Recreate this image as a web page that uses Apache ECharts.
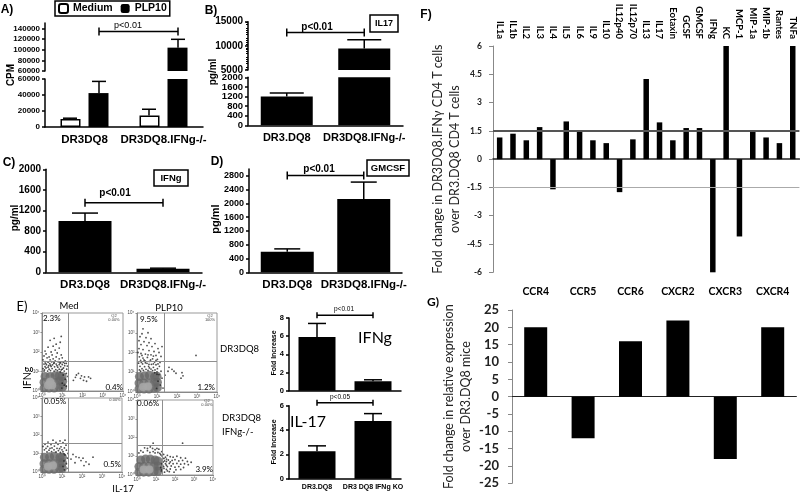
<!DOCTYPE html>
<html><head><meta charset="utf-8">
<style>html,body{margin:0;padding:0;background:#fff}#c{width:800px;height:493px}</style>
<script src="https://cdn.jsdelivr.net/npm/echarts@6/dist/echarts.min.js"></script>
</head><body><div id="c"></div>
<script>
// ---------- data ----------
const catA = ['DR3DQ8','DR3DQ8.IFNg-/-'];
const catBC = ['DR3.DQ8','DR3DQ8.IFNg-/-'];
const catE = ['DR3.DQ8','DR3 DQ8 IFNg KO'];
const aMedium = [10000,14300], aMediumErr = [11000,22200];
const aPlp = [42400,103800], aPlpErr = [57000,119400];
const aTicksHigh = [60000,80000,100000,120000,140000], aTicksLow = [0,20000,40000,60000];
const bValues = [1200,9450], bErr = [1350,11240];
const bTicksHigh = [5000,10000,15000], bTicksLow = [0,400,800,1200,1600,2000];
const cValues = [996,70], cErr = [1150,80], cTicks = [0,400,800,1200,1600,2000];
const dValues = [600,2130], dErr = [680,2620], dTicks = [0,400,800,1200,1600,2000,2400,2800];
const e1Values = [5.9,1.05], e1Err = [7.4,1.2], e1Ticks = [0,2,4,6,8];
const e2Values = [2.25,4.75], e2Err = [2.7,5.35], e2Ticks = [0,2,4,6];
const fCats = ['IL1a','IL1b','IL2','IL3','IL4','IL5','IL6','IL9','IL10','IL12p40','IL12p70','IL13','IL17','Eotaxin','GCSF','GMCSF','IFNg','KC','MCP-1','MIP-1a','MIP-1b','Rantes','TNFa'];
const fValues = [1.15,1.35,1.0,1.7,-1.6,2.0,1.5,1.0,0.85,-1.75,1.05,4.25,1.95,1.0,1.65,1.65,-6,6,-4.1,1.5,1.15,0.85,6];
const gCats = ['CCR4','CCR5','CCR6','CXCR2','CXCR3','CXCR4'];
const gValues = [20,-12,16,22,-18,20];
const decadeLabels = ['10⁰','10¹','10²','10³','10⁴'];
// flow cytometry events, [log10 IL-17, log10 IFNg], read by eye
const flowMedHi = [[0.95,2.8],[0.6,2.7],[0.4,2.6],[0.9,2.5],[0.7,2.4],[0.55,2.3],[0.3,2.25],[0.85,2.2],[0.65,2.1],[0.15,2.05],[0.45,2.0],[0.75,1.95],[0.2,1.9],[0.5,1.85],[0.95,1.85],[0.1,1.8],[0.35,1.75],[0.7,1.75],[1.0,1.7],[0.25,1.7],[0.55,1.65],[0.85,1.65],[0.05,1.6],[0.4,1.6],[0.65,1.55],[1.15,1.55],[0.15,1.5],[0.3,1.48],[0.48,1.5],[0.6,1.45],[0.8,1.5],[0.92,1.45],[1.05,1.48],[1.2,1.42],[0.1,1.38],[0.22,1.35],[0.38,1.4],[0.52,1.34],[0.7,1.38],[0.85,1.35],[1.0,1.36],[1.12,1.3],[1.25,1.28],[0.15,1.25],[0.3,1.22],[0.45,1.26],[0.62,1.24],[0.78,1.22],[0.92,1.25],[1.06,1.18],[1.22,1.12],[0.05,1.15],[0.95,1.08],[1.1,1.02],[1.2,0.9],[1.28,0.75],[1.05,0.82],[1.15,0.6],[1.0,0.4],[1.1,0.3],[0.98,0.15],[1.2,0.25],[1.7,0.82],[1.8,0.9],[1.95,0.78],[1.65,0.7],[1.9,0.65],[2.1,0.72],[2.3,0.72],[2.4,0.65],[2.05,0.55],[1.55,0.55],[2.2,0.5],[0.2,1.18],[0.35,1.12],[0.5,1.15],[0.68,1.1],[0.85,1.12],[0.12,1.08],[0.42,1.05],[0.6,1.02],[0.76,1.04],[0.9,0.98],[1.0,1.12],[0.28,1.02],[0.18,1.42],[0.42,1.32],[0.58,1.42],[0.74,1.3],[0.88,1.44],[1.12,1.42],[0.33,1.3],[0.1,1.02]];
const flowMedLo = [[0.1,0.15],[0.35,0.15],[0.6,0.15],[0.85,0.2],[1.02,0.2],[0.1,0.45],[0.35,0.45],[0.6,0.45],[0.85,0.5],[1.02,0.5],[0.15,0.75],[0.4,0.75],[0.65,0.78],[0.85,0.78],[1.0,0.75]];
const flowMedCore = [[0.3,0.3],[0.5,0.3],[0.4,0.48]];
const flowPlpHi = [[0.3,3.2],[0.25,2.95],[0.55,3.0],[0.15,2.8],[0.45,2.75],[0.7,2.7],[0.1,2.6],[0.35,2.55],[0.6,2.5],[0.9,2.45],[0.2,2.4],[0.5,2.35],[0.75,2.3],[1.05,2.2],[0.1,2.2],[0.3,2.15],[0.6,2.1],[0.85,2.05],[1.1,2.0],[0.05,2.0],[0.2,1.95],[0.42,1.92],[0.7,1.88],[0.95,1.85],[1.2,1.8],[0.12,1.78],[0.3,1.72],[0.52,1.75],[0.78,1.68],[1.02,1.65],[0.18,1.6],[0.4,1.58],[0.62,1.55],[0.88,1.52],[1.15,1.5],[0.08,1.46],[0.28,1.42],[0.5,1.45],[0.72,1.4],[0.95,1.38],[1.12,1.3],[0.15,1.3],[0.38,1.28],[0.58,1.3],[0.82,1.25],[1.02,1.18],[1.2,1.05],[1.1,0.88],[1.25,0.7],[1.05,0.55],[1.18,0.35],[0.98,0.18],[1.3,0.2],[2.95,1.85],[1.25,2.3],[1.6,1.25],[1.55,1.05],[1.85,1.05],[1.95,0.95],[2.25,0.98],[2.3,0.82],[2.2,0.7],[1.75,1.15],[1.4,0.85],[0.25,1.85],[0.55,1.88],[0.82,1.82],[0.35,1.62],[0.68,1.62],[0.95,1.6],[0.22,1.5],[0.42,1.48],[0.6,1.4],[0.82,1.42],[1.05,1.42],[0.25,1.18],[0.45,1.15],[0.7,1.16],[0.9,1.12],[0.12,1.12],[0.32,1.1],[0.55,1.1],[0.78,1.08],[1.0,1.02],[1.0,0.9],[0.88,0.98],[0.62,1.22],[0.18,1.05]];
const flowPlpLo = [[0.1,0.15],[0.35,0.15],[0.6,0.15],[0.85,0.2],[1.02,0.22],[0.1,0.45],[0.35,0.45],[0.6,0.45],[0.88,0.5],[1.02,0.5],[0.12,0.78],[0.38,0.82],[0.62,0.85],[0.88,0.78],[1.0,0.8]];
const flowPlpCore = [[0.3,0.25],[0.55,0.28]];
const flowKoMedHi = [[0.55,1.72],[0.9,1.68],[1.15,1.72],[0.3,1.62],[0.7,1.6],[1.05,1.58],[0.15,1.5],[0.45,1.48],[0.8,1.5],[1.2,1.45],[0.05,1.38],[0.28,1.38],[0.62,1.4],[0.95,1.36],[1.12,1.3],[0.4,1.28],[0.75,1.28],[1.22,1.18],[1.05,1.1],[1.3,1.0],[1.15,0.92],[1.28,0.75],[1.1,0.6],[1.22,0.45],[1.05,0.3],[1.3,0.2],[1.12,0.12],[1.55,0.95],[1.7,0.82],[1.85,0.78],[1.95,0.62],[2.05,0.75],[2.2,0.55],[2.35,0.42],[2.55,0.8],[2.1,0.35],[1.65,0.5],[1.45,0.7],[0.2,1.28],[0.5,1.3],[0.88,1.26],[0.12,1.2],[0.35,1.18],[0.6,1.2],[0.82,1.16],[1.0,1.2],[0.25,1.08],[0.48,1.1],[0.7,1.08],[0.92,1.06],[1.1,0.98]];
const flowKoMedLo = [[0.1,0.15],[0.35,0.15],[0.6,0.15],[0.88,0.18],[1.02,0.2],[0.1,0.45],[0.35,0.45],[0.6,0.45],[0.88,0.5],[1.02,0.5],[0.12,0.8],[0.38,0.82],[0.62,0.85],[0.9,0.8],[1.02,0.8]];
const flowKoMedCore = [[0.3,0.3],[0.55,0.35]];
const flowKoPlpHi = [[0.4,1.45],[0.7,1.5],[0.95,1.35],[1.15,1.38],[0.2,1.3],[0.55,1.3],[0.85,1.25],[1.1,1.2],[1.3,1.25],[0.1,1.18],[1.25,1.08],[1.4,1.1],[1.5,0.95],[1.35,0.9],[1.6,1.05],[1.75,0.98],[1.9,0.95],[2.1,1.0],[2.3,0.92],[2.55,0.9],[1.45,0.75],[1.65,0.8],[1.85,0.78],[2.0,0.82],[2.2,0.75],[2.4,0.78],[2.65,0.72],[2.85,0.68],[1.3,0.6],[1.5,0.6],[1.7,0.62],[1.9,0.6],[2.1,0.62],[2.3,0.58],[2.5,0.6],[2.7,0.55],[1.4,0.45],[1.6,0.45],[1.8,0.48],[2.0,0.42],[2.2,0.45],[2.45,0.4],[1.3,0.3],[1.55,0.3],[1.75,0.32],[2.05,0.28],[2.3,0.3],[1.45,0.15],[1.7,0.18],[1.95,0.15],[2.4,1.7],[0.85,1.7],[0.55,1.42],[0.82,1.42],[1.05,1.42],[0.32,1.22],[0.68,1.2],[0.95,1.18],[1.2,1.15],[1.32,1.02],[1.42,0.88],[1.55,0.85],[1.38,0.7],[1.55,0.72],[1.75,0.7],[1.35,0.52],[1.55,0.52],[1.25,0.4],[1.42,0.35],[1.28,0.22],[1.6,0.22]];
const flowKoPlpLo = [[0.1,0.15],[0.35,0.15],[0.62,0.15],[0.9,0.18],[1.1,0.2],[0.1,0.45],[0.35,0.45],[0.62,0.45],[0.9,0.48],[1.1,0.48],[0.2,0.8],[0.45,0.85],[0.7,0.85],[0.95,0.8],[1.1,0.75]];
const flowKoPlpCore = [[0.35,0.3],[0.65,0.3]];
const flowGateX = [1.3,1.35,1.3,1.33], flowGateY = [1.54,1.55,1.55,1.58];

// ---------- helpers ----------
const ARIAL='"Liberation Sans",Arial,sans-serif', LATO='Lato,"Open Sans",sans-serif';
const grids=[],xAxes=[],yAxes=[],series=[],texts=[],topAxes=[];
const BLK='#000';
function addGrid(box,xCats,xOpt,yOpt){
  const i=grids.length;
  grids.push(Object.assign({containLabel:false},box));
  xAxes.push(Object.assign({type:'category',data:xCats,gridIndex:i,
    axisLine:{onZero:false,lineStyle:{color:BLK,width:1.5}},
    axisTick:{alignWithLabel:true,length:3,lineStyle:{color:BLK,width:1.5}},
    axisLabel:{interval:0,hideOverlap:false,color:BLK,fontFamily:ARIAL,fontWeight:'bold',fontSize:11.5,margin:7},
    splitLine:{show:false}},xOpt||{}));
  yAxes.push(Object.assign({type:'value',gridIndex:i,splitLine:{show:false},
    axisLine:{show:true,lineStyle:{color:BLK,width:1.5}},
    axisTick:{show:true,length:3,lineStyle:{color:BLK,width:1.5}}},yOpt||{}));
  return i;
}
function tickY(ticks,fs,min,max,extra){
  return Object.assign({min,max,
    axisLabel:{customValues:ticks,formatter:v=>String(v),hideOverlap:false,showMinLabel:true,showMaxLabel:true,color:BLK,fontFamily:ARIAL,fontWeight:'bold',fontSize:fs,lineHeight:7,margin:5},
    axisTick:{show:true,customValues:ticks,length:3,lineStyle:{color:BLK,width:1.5}}},extra||{});
}
function bars(i,name,data,w,opt){
  series.push(Object.assign({type:'bar',name,xAxisIndex:i,yAxisIndex:i,data,barWidth:w,clip:true,
    itemStyle:{color:BLK},animation:false,silent:true},opt||{}));
}
function errs(i,tops,bases,cap,dx,only){
  const data=[];
  tops.forEach((t,k)=>{ if(!only||only(bases[k],t)) data.push([k,bases[k],t]); });
  series.push({type:'custom',xAxisIndex:i,yAxisIndex:i,data,animation:false,silent:true,clip:false,z:3,
    encode:{x:0,y:[1,2]},
    renderItem(p,api){
      const a=api.coord([api.value(0),api.value(1)]),b=api.coord([api.value(0),api.value(2)]);
      const x=a[0]+(dx||0);
      const st={stroke:BLK,lineWidth:1.5};
      return {type:'group',children:[
        {type:'line',shape:{x1:x,y1:a[1],x2:x,y2:b[1]},style:st},
        {type:'line',shape:{x1:x-cap,y1:b[1],x2:x+cap,y2:b[1]},style:st}]};
    }});
}
function bracket(i,x0,x1,y,capH,dx0,dx1){
  series.push({type:'custom',xAxisIndex:i,yAxisIndex:i,data:[[x0,x1,y]],animation:false,silent:true,clip:false,z:4,
    encode:{x:[0,1],y:2},
    renderItem(p,api){
      const a=api.coord([api.value(0),api.value(2)]),b=api.coord([api.value(1),api.value(2)]);
      const st={stroke:BLK,lineWidth:1.5},l=a[0]+(dx0||0),r=b[0]+(dx1||0);
      return {type:'group',children:[
        {type:'line',shape:{x1:l,y1:a[1],x2:r,y2:a[1]},style:st},
        {type:'line',shape:{x1:l,y1:a[1]-capH,x2:l,y2:a[1]+capH},style:st},
        {type:'line',shape:{x1:r,y1:a[1]-capH,x2:r,y2:a[1]+capH},style:st}]};
    }});
}
// tick labels too tightly packed for the axis' own label layout, placed through the same scale
function packedTickLabels(i,ticks,fs){
  series.push({type:'custom',xAxisIndex:i,yAxisIndex:i,data:ticks.map(v=>[0,v]),animation:false,silent:true,clip:false,z:5,
    encode:{x:0,y:1},
    renderItem(p,api){
      const c=api.coord([0,api.value(1)]);
      return {type:'text',x:p.coordSys.x-5,y:c[1],style:{text:String(api.value(1)),fill:BLK,
        font:'bold '+fs+'px '+ARIAL,textAlign:'right',textVerticalAlign:'middle'}};
    }});
}
function txt(s,x,y,fs,o){
  o=o||{};
  texts.push({type:'text',x,y,rotation:o.rot||0,z:10,silent:true,style:{text:s,
    fill:o.fill||BLK,font:(o.w||'normal')+' '+fs+'px '+(o.ff||ARIAL),
    textAlign:o.a||'center',textVerticalAlign:'middle'}});
}
function box(x,y,w,h){
  texts.push({type:'rect',z:9,silent:true,shape:{x,y,width:w,height:h},style:{fill:'#fff',stroke:BLK,lineWidth:1.5}});
}
const UP=Math.PI/2;

// ---------- A ----------
let i=addGrid({left:45,top:23,width:158,height:48},catA,{show:false},tickY(aTicksHigh,8,60000,150000));
bars(i,'Medium',aMedium.map(()=>null),20,{barGap:'40%',itemStyle:{color:'#fff',borderColor:BLK,borderWidth:1.5}});
bars(i,'PLP10',aPlp,20,{barGap:'40%'});
errs(i,aPlpErr,aPlp,7,14.5,(b)=>b>60000);
bracket(i,0,1,134000,4,14.5,14.5);
i=addGrid({left:45,top:79,width:158,height:48},catA,{},tickY(aTicksLow,8,0,60000));
bars(i,'Medium',aMedium,20,{barGap:'40%',itemStyle:{color:'#fff',borderColor:BLK,borderWidth:1.5}});
bars(i,'PLP10',aPlp,20,{barGap:'40%'});
errs(i,aMediumErr,aMedium,7,-14.5);
errs(i,aPlpErr,aPlp,7,14.5,(b)=>b<=60000);
txt('A)',7,10,12,{w:'bold'});
txt('CPM',11.5,75,10,{w:'bold',rot:UP});
txt('p<0.01',128,26,9);

// ---------- B ----------
i=addGrid({left:248,top:21.7,width:155,height:48.3},catBC,{show:false},
  tickY(bTicksHigh,10,5000,15000,{minorTick:{show:true,splitNumber:5,length:2,lineStyle:{color:BLK,width:1}}}));
bars(i,'b',bValues,52);
errs(i,bErr,bValues,17,0,(b)=>b>5000);
bracket(i,0,1,12750,4);
i=addGrid({left:248,top:77.3,width:155,height:48},catBC,{axisLabel:{interval:0,hideOverlap:false,color:BLK,fontFamily:ARIAL,fontWeight:'bold',fontSize:11,margin:7}},
  Object.assign(tickY(bTicksLow,10,0,2000),{axisLabel:{show:false}}));
bars(i,'b',bValues,52);
errs(i,bErr,bValues,17,0,(b)=>b<=2000);
packedTickLabels(i,bTicksLow,9.5);
txt('B)',211,11,12,{w:'bold'});
txt('pg/ml',213,72,10,{w:'bold',rot:UP});
txt('p<0.01',317,27,10,{w:'bold'});
box(370,15,28,17); txt('IL17',384,24,9,{w:'bold'});

// ---------- C ----------
i=addGrid({left:46,top:169.3,width:156,height:103},catBC,{},tickY(cTicks,10,0,2000));
bars(i,'c',cValues,53);
errs(i,cErr,cValues,13,0);
bracket(i,0,0.885,1351,4);
txt('C)',9,163,12,{w:'bold'});
txt('pg/ml',15,218,10,{w:'bold',rot:UP});
txt('p<0.01',115,193,10,{w:'bold'});
box(154,170,34,16); txt('IFNg',171,178,9.5,{w:'bold'});

// ---------- D ----------
i=addGrid({left:249,top:169,width:153,height:103.3},catBC,{},tickY(dTicks,9,0,3000));
bars(i,'d',dValues,53);
errs(i,dErr,dValues,13,0);
bracket(i,0,1,2808,4);
txt('D)',217,162,12,{w:'bold'});
txt('pg/ml',216,219,11,{w:'bold',rot:UP});
txt('p<0.01',319,169,10,{w:'bold'});
box(367,160,42,16); txt('GMCSF',388,168,9.5,{w:'bold'});

// ---------- E flow ----------
function flow(b,hi,lo,core,k){
  const g=addGrid(Object.assign({show:true,borderColor:'#999',borderWidth:1},b),decadeLabels,{show:false},{show:false});
  xAxes[g]={type:'value',gridIndex:g,min:0,max:4,interval:1,splitLine:{show:false},
    axisLine:{onZero:false,lineStyle:{color:'#888',width:1}},axisTick:{length:1.5,lineStyle:{color:'#888'}},
    axisLabel:{fontSize:4.5,color:'#444',margin:2.5,fontFamily:ARIAL,formatter:v=>decadeLabels[v]}};
  yAxes[g]={type:'value',gridIndex:g,min:0,max:4,interval:1,splitLine:{show:false},
    axisLine:{onZero:false,show:true,lineStyle:{color:'#888',width:1}},axisTick:{show:true,length:1.5,lineStyle:{color:'#888'}},
    axisLabel:{fontSize:4.5,color:'#444',margin:2.5,fontFamily:ARIAL,formatter:v=>decadeLabels[v]}};
  series.push({type:'scatter',xAxisIndex:g,yAxisIndex:g,data:lo,symbolSize:9,clip:true,silent:true,animation:false,z:1,
    itemStyle:{color:'#666'},
    markLine:{silent:true,symbol:'none',animation:false,label:{show:false},lineStyle:{color:'#8f8f8f',width:1,type:'solid'},
      data:[{xAxis:flowGateX[k]},{yAxis:flowGateY[k]}]}});
  series.push({type:'scatter',xAxisIndex:g,yAxisIndex:g,data:core,symbolSize:8,clip:true,silent:true,animation:false,z:2,
    itemStyle:{color:'#a8a8a8',shadowBlur:3,shadowColor:'#a8a8a8'}});
  series.push({type:'scatter',xAxisIndex:g,yAxisIndex:g,data:hi,symbolSize:1.8,clip:true,silent:true,animation:false,z:3,
    itemStyle:{color:'#222'}});
}
flow({left:42,top:313,width:81,height:78},flowMedHi,flowMedLo,flowMedCore,0);
flow({left:137,top:313,width:80,height:79},flowPlpHi,flowPlpLo,flowPlpCore,1);
flow({left:42,top:398,width:80,height:74},flowKoMedHi,flowKoMedLo,flowKoMedCore,2);
flow({left:137,top:400,width:76,height:75},flowKoPlpHi,flowKoPlpLo,flowKoPlpCore,3);
const S={ff:LATO};
txt('E)',22,307,13,S);
txt('Med',69,306,9.5,S); txt('PLP10',169,308,9.5,S);
txt('DR3DQ8',220,349,9.5,{ff:LATO,a:'left'});
txt('DR3DQ8',222,418,9.5,{ff:LATO,a:'left'});
txt('IFNg-/-',222,432,9.5,{ff:LATO,a:'left'});
txt('IFNg',28,378,10.5,{ff:LATO,rot:UP});
txt('IL-17',123,489,9.5,S);
txt('2.3%',43,318,8,{ff:LATO,a:'left'}); txt('0.4%',123,387,8,{ff:LATO,a:'right'});
txt('9.5%',140,319,8,{ff:LATO,a:'left'}); txt('1.2%',215,387,8,{ff:LATO,a:'right'});
txt('0.05%',44,401,8,{ff:LATO,a:'left'}); txt('0.5%',121,464,8,{ff:LATO,a:'right'});
txt('0.06%',137,403,8,{ff:LATO,a:'left'}); txt('3.9%',213,469,8,{ff:LATO,a:'right'});
txt('Q2\n0.00%',114,318,4,{fill:'#444'}); txt('Q2\n100%',210,318,4,{fill:'#444'});
txt('0.00%',115,400,4,{fill:'#444'}); txt('Q2\n0.00%',207,403,4,{fill:'#444'});

// ---------- E bars ----------
const eLabel={interval:0,hideOverlap:false,color:BLK,fontFamily:ARIAL,fontWeight:'bold',fontSize:7,margin:5};
i=addGrid({left:289,top:318,width:112,height:72.7},catE,{axisLabel:Object.assign({},eLabel,{show:false})},tickY(e1Ticks,7.5,0,8,{}));
bars(i,'e1',e1Values,37);
errs(i,e1Err,e1Values,9,0);
bracket(i,0,0.88,8.3,3);
txt('p<0.01',344,309,6.5); txt('IFNg',375,338,16,S);
txt('Fold Increase',274,353,7,{w:'bold',rot:UP});
i=addGrid({left:289,top:405.7,width:112,height:73},catE,{axisLabel:eLabel},tickY(e2Ticks,7.5,0,6,{}));
bars(i,'e2',e2Values,37);
errs(i,e2Err,e2Values,9,0);
bracket(i,0,0.88,6.25,3);
txt('p<0.05',340,397,6.5); txt('IL-17',308,422,16,S);
txt('Fold Increase',274,442,7,{w:'bold',rot:UP});

// ---------- F ----------
const grayLine={lineStyle:{color:'#888',width:1}};
i=addGrid({left:493,top:46,width:306.4,height:226.3},fCats,
  {axisLine:{onZero:true,lineStyle:{color:'#222',width:1.5}},axisTick:{show:false},axisLabel:{show:false}},
  {min:-6,max:6,interval:1.5,axisLine:Object.assign({show:true},grayLine),axisTick:Object.assign({show:true,length:4},grayLine),
   axisLabel:{color:'#222',fontFamily:LATO,fontWeight:'bold',fontSize:8.5,margin:11},
   name:'Fold change in DR3DQ8.IFNγ CD4 T cells\nover DR3.DQ8 CD4 T cells',nameLocation:'middle',nameRotate:90,nameGap:27,
   nameTextStyle:{color:'#222',fontFamily:LATO,fontSize:12.5,lineHeight:16.5}});
bars(i,'f',fValues,5.5,{markLine:{silent:true,symbol:'none',animation:false,label:{show:false},
  data:[{yAxis:1.5,lineStyle:{color:'#555',width:2,type:'solid'}},{yAxis:-1.5,lineStyle:{color:'#aaa',width:1,type:'solid'}}]}});
topAxes.push({type:'category',data:fCats,gridIndex:i,position:'top',axisLine:{show:false,onZero:false},axisTick:{show:false},
  axisLabel:{interval:0,rotate:90,color:'#000',fontFamily:LATO,fontWeight:'bold',fontSize:9.5,margin:7}});
txt('F)',426,15,12,{w:'bold'});

// ---------- G ----------
i=addGrid({left:512,top:310,width:284.4,height:173.3},gCats,
  {axisLine:{onZero:true,lineStyle:{color:'#222',width:1}},axisTick:{alignWithLabel:false,length:4,inside:false,lineStyle:{color:'#222',width:1}},axisLabel:{show:false}},
  {min:-25,max:25,interval:5,axisLine:Object.assign({show:true},grayLine),axisTick:Object.assign({show:true,length:4},grayLine),
   axisLabel:{color:'#222',fontFamily:LATO,fontWeight:'bold',fontSize:13,margin:13},
   name:'Fold change in relative expression\nover DR3.DQ8 mice',nameLocation:'middle',nameRotate:90,nameGap:38,
   nameTextStyle:{color:'#222',fontFamily:LATO,fontSize:12.5,lineHeight:16.5}});
bars(i,'g',gValues,23);
topAxes.push({type:'category',data:gCats,gridIndex:i,position:'top',axisLine:{show:false,onZero:false},axisTick:{show:false},
  axisLabel:{interval:0,color:'#000',fontFamily:LATO,fontWeight:'bold',fontSize:10.5,margin:13}});
txt('G)',433,302,12,{w:'bold',ff:LATO});

echarts.init(document.getElementById('c'),null,{renderer:'canvas'}).setOption({
  backgroundColor:'#fff',animation:false,
  grid:grids,xAxis:xAxes.concat(topAxes),yAxis:yAxes,series,graphic:{elements:texts},
  legend:{show:true,data:['Medium','PLP10'],left:55,top:1,itemWidth:9,itemHeight:9,itemGap:8,padding:[2,3,2,3],
    borderColor:BLK,borderWidth:1.5,selectedMode:false,
    textStyle:{color:BLK,fontFamily:ARIAL,fontWeight:'bold',fontSize:10.5}}
});
</script></body></html>
